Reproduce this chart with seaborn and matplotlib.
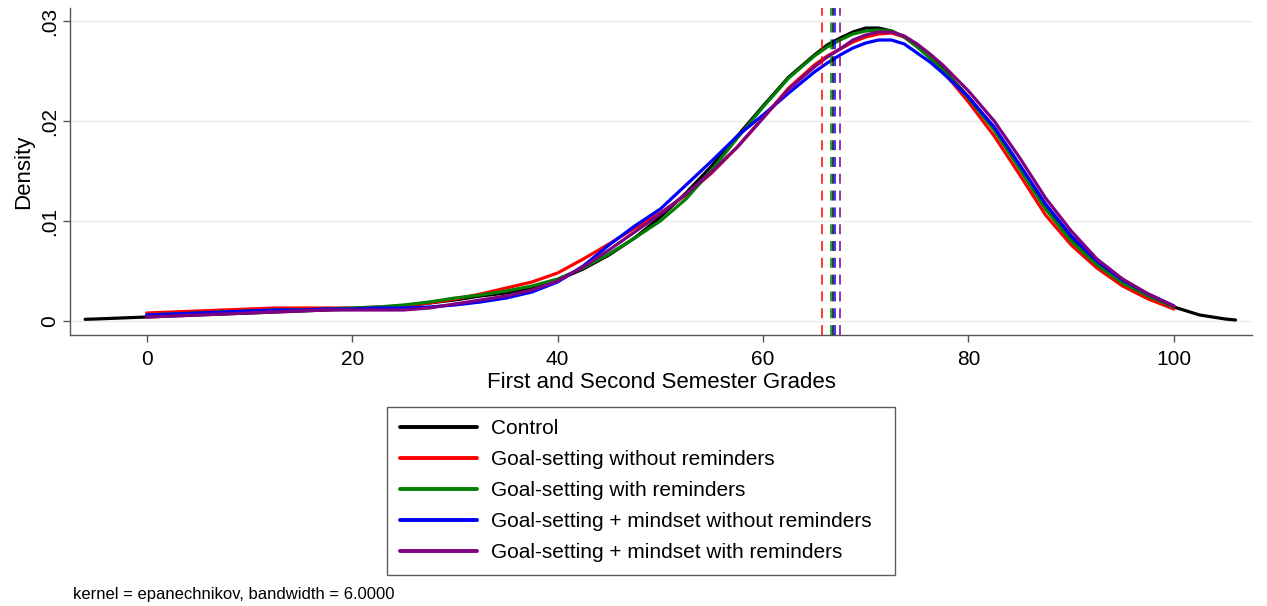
import numpy as np
import pandas as pd
import matplotlib
matplotlib.use("Agg")
import matplotlib.pyplot as plt
import seaborn as sns

# Kernel density estimates of grades by treatment arm (Epanechnikov, bw = 6)
groups = [
    "Control",
    "Goal-setting without reminders",
    "Goal-setting with reminders",
    "Goal-setting + mindset without reminders",
    "Goal-setting + mindset with reminders",
]
colors = ["#000000", "#ff0000", "#008000", "#0000ff", "#800080"]

grades_control = [-6, -5, -2.5, 0, 2.5, 5, 7.5, 10, 12.5, 15, 17.5, 20, 22.5, 25,
                  27.5, 30, 32.5, 35, 37.5, 40, 42.5, 45, 47.5, 50, 52.5, 55, 57.5,
                  60, 62.5, 65, 66.25, 67.5, 68.75, 70, 71.25, 72.5, 73.75, 75, 76.25,
                  77.5, 80, 82.5, 85, 87.5, 90, 92.5, 95, 97.5, 100, 102.5, 105, 106]
grades_treat = [0, 2.5, 5, 7.5, 10, 12.5, 15, 17.5, 20, 22.5, 25, 27.5, 30, 32.5,
                35, 37.5, 40, 42.5, 45, 47.5, 50, 52.5, 55, 57.5, 60, 62.5, 65,
                66.25, 67.5, 68.75, 70, 71.25, 72.5, 73.75, 75, 76.25,
                77.5, 80, 82.5, 85, 87.5, 90, 92.5, 95, 97.5, 100]

dens_control = [.00017, .0002, .0003, .0004, .0005, .0006, .0007, .0008, .0009, .0010,
                .0011, .0012, .0013, .0015, .0018, .0021, .0025, .0028, .0033, .0041,
                .0052, .0066, .0083, .0104, .0128, .0155, .0185, .0215, .0244, .0266,
                .0276, .0283, .0289, .0293, .0293, .0290, .0284, .0275, .0264,
                .0252, .0224, .0192, .0153, .0113, .0081,
                .0057, .0039, .0025, .0014, .0006, .0002, .0001]
dens_goal = [.0008, .0009, .0010, .0011, .0012, .0013, .0013, .0013, .0013, .0014,
             .0015, .0018, .0022, .0027, .0033, .0039, .0048, .0062, .0077, .0093,
             .0108, .0126, .0148, .0174, .0203, .0233, .0256,
             .0265, .0272, .0279, .0284, .0287, .0288, .0284, .0276, .0264,
             .0250, .0219, .0185, .0146, .0106, .0076, .0053, .0035, .0022, .0012]
dens_goal_rem = [.0006, .0007, .0008, .0009, .0010, .0011, .0011, .0012, .0013, .0014,
                 .0016, .0019, .0023, .0026, .0030, .0035, .0042, .0053, .0067, .0083,
                 .0100, .0122, .0151, .0183, .0214, .0243, .0265,
                 .0274, .0281, .0287, .0290, .0291, .0290, .0284, .0274, .0263,
                 .0251, .0223, .0191, .0152, .0112, .0080, .0056, .0038, .0025, .0014]
dens_mind = [.0006, .0007, .0008, .0009, .0010, .0011, .0011, .0012, .0012, .0013,
             .0013, .0014, .0016, .0019, .0023, .0029, .0039, .0055, .0076, .0095,
             .0112, .0136, .0160, .0185, .0206, .0228, .0249,
             .0258, .0266, .0273, .0278, .0281, .0281, .0277, .0268, .0259,
             .0248, .0224, .0194, .0156, .0117, .0085, .0060, .0041, .0027, .0015]
dens_mind_rem = [.0004, .0005, .0006, .0007, .0008, .0009, .0010, .0011, .0011, .0011,
                 .0011, .0013, .0017, .0021, .0025, .0031, .0040, .0054, .0071, .0089,
                 .0107, .0127, .0149, .0174, .0203, .0232, .0254,
                 .0264, .0272, .0281, .0286, .0289, .0289, .0285, .0277, .0267,
                 .0256, .0230, .0200, .0163, .0123, .0090, .0062, .0042, .0027, .0015]

# Group means of grades (dashed reference lines)
group_means = [66.8, 65.7, 66.6, 67.0, 67.45]

ytick_vals = [0, 0.01, 0.02, 0.03]
ytick_labels = ["0", ".01", ".02", ".03"]
xtick_vals = [0, 20, 40, 60, 80, 100]

series_x = [grades_control, grades_treat, grades_treat, grades_treat, grades_treat]
series_y = [dens_control, dens_goal, dens_goal_rem, dens_mind, dens_mind_rem]
df = pd.concat(
    [pd.DataFrame({"grade": x, "density": y, "group": g})
     for x, y, g in zip(series_x, series_y, groups)],
    ignore_index=True,
)

sns.set_style("white")
plt.rcParams["font.family"] = ["Liberation Sans", "DejaVu Sans"]
plt.rcParams["text.color"] = "black"
plt.rcParams["axes.labelcolor"] = "black"

fig = plt.figure(figsize=(12.67, 6.06), dpi=100)
ax = fig.add_axes([70 / 1267, 1 - 335 / 606, (1252 - 70) / 1267, (335 - 8) / 606])

for y in ytick_vals:
    ax.axhline(y, color="#eaeaea", lw=1.0, zorder=0)

sns.lineplot(data=df, x="grade", y="density", hue="group", hue_order=groups,
             palette=dict(zip(groups, colors)), linewidth=2.3, ax=ax,
             estimator=None, sort=True)

for m, c in zip(group_means, colors):
    ax.axvline(m, color=c, lw=1.1, dashes=(6.5, 4.5), zorder=5)

ax.set_xlim(-7.47, 107.6)
ax.set_ylim(-0.0014, 0.0313)
ax.set_xticks(xtick_vals)
ax.set_xticklabels([str(v) for v in xtick_vals], fontsize=15)
ax.set_yticks(ytick_vals)
ax.set_yticklabels(ytick_labels, fontsize=15, rotation=90, va="center")
ax.tick_params(axis="both", direction="out", length=5, width=1, color="#555555",
               labelcolor="black", pad=6, bottom=True, left=True)
ax.tick_params(axis="y", pad=3)
for s in ["top", "right"]:
    ax.spines[s].set_visible(False)
for s in ["left", "bottom"]:
    ax.spines[s].set_color("#555555")
    ax.spines[s].set_linewidth(1.0)

ax.set_xlabel("First and Second Semester Grades", fontsize=16, labelpad=2)
ax.set_ylabel("Density", fontsize=16, labelpad=4)

handles, labels = ax.get_legend_handles_labels()
ax.get_legend().remove()
leg = fig.legend(handles, labels, loc="upper left", mode="expand",
                 bbox_to_anchor=(387 / 1267, 1 - 575 / 606, (895 - 387) / 1267, 168 / 606),
                 frameon=True, fancybox=False, fontsize=15,
                 handlelength=3.7, handletextpad=0.7, labelspacing=0.57,
                 borderpad=0.6, borderaxespad=0)
leg.get_frame().set_edgecolor("#333333")
leg.get_frame().set_linewidth(1.0)
for line in leg.get_lines():
    line.set_linewidth(2.8)
for t in leg.get_texts():
    t.set_color("black")

fig.text(73 / 1267, 1 - 595 / 606, "kernel = epanechnikov, bandwidth = 6.0000",
         fontsize=12, va="center", ha="left")

fig.savefig("out.png", dpi=100, facecolor="white")
